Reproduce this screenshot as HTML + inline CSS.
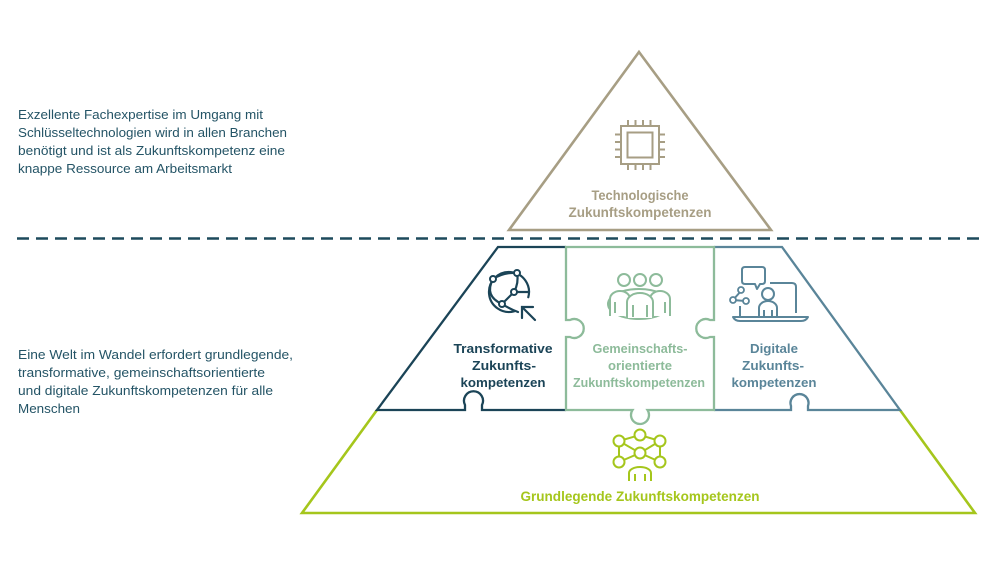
<!DOCTYPE html>
<html>
<head>
<meta charset="utf-8">
<style>
html,body{margin:0;padding:0;background:#fff;}
svg{display:block;}
text{font-family:"Liberation Sans",Arial,sans-serif;}
</style>
</head>
<body>
<svg width="1000" height="563" viewBox="0 0 1000 563" xmlns="http://www.w3.org/2000/svg">
<rect width="1000" height="563" fill="#fff"/>

<!-- Left descriptive text -->
<g font-size="13" fill="#245466">
<text x="18" y="119" textLength="245" lengthAdjust="spacingAndGlyphs">Exzellente Fachexpertise im Umgang mit</text>
<text x="18" y="137" textLength="269" lengthAdjust="spacingAndGlyphs">Schlüsseltechnologien wird in allen Branchen</text>
<text x="18" y="155" textLength="267" lengthAdjust="spacingAndGlyphs">benötigt und ist als Zukunftskompetenz eine</text>
<text x="18" y="173" textLength="214" lengthAdjust="spacingAndGlyphs">knappe Ressource am Arbeitsmarkt</text>

<text x="18" y="359" textLength="275" lengthAdjust="spacingAndGlyphs">Eine Welt im Wandel erfordert grundlegende,</text>
<text x="18" y="377" textLength="247" lengthAdjust="spacingAndGlyphs">transformative, gemeinschaftsorientierte</text>
<text x="18" y="395" textLength="255" lengthAdjust="spacingAndGlyphs">und digitale Zukunftskompetenzen für alle</text>
<text x="18" y="413" textLength="62" lengthAdjust="spacingAndGlyphs">Menschen</text>
</g>

<!-- Dashed separator -->
<line x1="17" y1="238.5" x2="980" y2="238.5" stroke="#1d4a5c" stroke-width="2.6" stroke-dasharray="12 7"/>

<!-- Top triangle -->
<path d="M639 52 L771 230 L509 230 Z" fill="none" stroke="#a79e84" stroke-width="2.6" stroke-linejoin="miter"/>
<!-- Chip icon -->
<g fill="none" stroke="#a79e84" stroke-width="2">
<rect x="621" y="126" width="38" height="38"/>
<rect x="627.5" y="132.5" width="25" height="25"/>
<path d="M628 120V126 M635.5 120V126 M643 120V126 M650.5 120V126
         M628 164V170 M635.5 164V170 M643 164V170 M650.5 164V170
         M615 134.5H621 M615 142H621 M615 149.5H621 M615 157H621
         M659 134.5H665 M659 142H665 M659 149.5H665 M659 157H665"/>
</g>
<g font-size="13.5" font-weight="bold" fill="#a79e84" text-anchor="middle">
<text x="640" y="200" textLength="97" lengthAdjust="spacingAndGlyphs">Technologische</text>
<text x="640" y="217" textLength="143" lengthAdjust="spacingAndGlyphs">Zukunftskompetenzen</text>
</g>

<!-- Bottom trapezoid (sides + bottom) -->
<path d="M377 410 L302 513 L975 513 L900 410" fill="none" stroke="#a5c61c" stroke-width="2.6" stroke-linejoin="miter"/>

<!-- Left piece (navy) -->
<path d="M566 247 L498 247 L377 410 L465 410 L465 405 A9.5 9.5 0 1 1 482 405 L482 410 L566 410" fill="none" stroke="#1b4457" stroke-width="2.3" stroke-linejoin="miter"/>
<!-- Right piece (blue) -->
<path d="M714 247 L782 247 L900 410 L808 410 L808 406 A9 9 0 1 0 791 406 L791 410 L714 410" fill="none" stroke="#5a8599" stroke-width="2.3" stroke-linejoin="miter"/>
<!-- Middle piece (green) -->
<path d="M566 247 L714 247 L714 320 L710 320 A9.5 9.5 0 1 0 710 337 L714 337 L714 410 L647.5 410 A9 9 0 1 1 632.5 410 L566 410 L566 337 L570 337 A9.5 9.5 0 1 0 570 320 L566 320 Z" fill="none" stroke="#8dbb9a" stroke-width="2.3" stroke-linejoin="miter"/>

<!-- Globe icon (navy) -->
<g fill="none" stroke="#1b4457" stroke-width="2.2" stroke-linecap="round">
<path d="M514.2 311.3 A20 20 0 1 1 528.3 297.2"/>
<path d="M493 279 Q484 296 502 304"/>
<path d="M517 273 Q519 283 514 292"/>
<path d="M514 292 L529 292"/>
<path d="M514 292 L502 304"/>
<path d="M502 304 Q510 309 518 312"/>
<path d="M493 279 Q504 272 517 273"/>
<path d="M535 320 L522 307"/>
<path d="M522 318 L522 307 L533 307"/>
</g>
<g fill="#fff" stroke="#1b4457" stroke-width="2">
<circle cx="493" cy="279" r="3"/>
<circle cx="517" cy="273" r="3"/>
<circle cx="514" cy="292" r="3"/>
<circle cx="502" cy="304" r="3"/>
</g>
<g font-size="13" font-weight="bold" fill="#1b4457" text-anchor="middle">
<text x="503" y="353" textLength="99" lengthAdjust="spacingAndGlyphs">Transformative</text>
<text x="504" y="370" textLength="64" lengthAdjust="spacingAndGlyphs">Zukunfts-</text>
<text x="503" y="387" textLength="85" lengthAdjust="spacingAndGlyphs">kompetenzen</text>
</g>

<!-- Community icon (green) -->
<g fill="none" stroke="#8dbb9a" stroke-width="2">
<ellipse cx="639" cy="304" rx="31" ry="15"/>
<path d="M610 316 V299 A10 8 0 0 1 630 299 V316" fill="#fff"/>
<path d="M650 316 V299 A10 8 0 0 1 670 299 V316" fill="#fff"/>
<path d="M627 318 V302 A13 9 0 0 1 653 302 V318" fill="#fff"/>
<circle cx="624" cy="280" r="6" fill="#fff"/>
<circle cx="656" cy="280" r="6" fill="#fff"/>
<circle cx="640" cy="280" r="6" fill="#fff"/>
<path d="M615 302 V313 M633 305 V317 M647 305 V317 M665 302 V313"/>
</g>
<g font-size="13" font-weight="bold" fill="#8dbb9a" text-anchor="middle">
<text x="640" y="353" textLength="95" lengthAdjust="spacingAndGlyphs">Gemeinschafts-</text>
<text x="640" y="370" textLength="64" lengthAdjust="spacingAndGlyphs">orientierte</text>
<text x="639" y="387" textLength="132" lengthAdjust="spacingAndGlyphs">Zukunftskompetenzen</text>
</g>

<!-- Digital icon (blue) -->
<g fill="none" stroke="#5a8599" stroke-width="2" stroke-linejoin="round">
<path d="M745 267 H762 Q765 267 765 270 V281 Q765 284 762 284 H760 L757 289 L755 284 H745 Q742 284 742 281 V270 Q742 267 745 267 Z"/>
<path d="M770 283 H792 Q796 283 796 287 V313"/>
<circle cx="768" cy="294" r="6"/>
<path d="M759 316 V308 A9 7 0 0 1 777 308 V316"/>
<path d="M764 310 V316 M772 310 V316"/>
<path d="M741 291 L733 300 M733 300 L745 301"/>
<path d="M740 306 V316"/>
<path d="M733 317 H808 Q806 321 801 321 H740 Q735 321 733 317 Z"/>
</g>
<g fill="#fff" stroke="#5a8599" stroke-width="1.8">
<circle cx="741" cy="290" r="3"/>
<circle cx="733" cy="300" r="3"/>
<circle cx="746" cy="301" r="3"/>
</g>
<g font-size="13" font-weight="bold" fill="#5a8599" text-anchor="middle">
<text x="774" y="353" textLength="48" lengthAdjust="spacingAndGlyphs">Digitale</text>
<text x="773" y="370" textLength="62" lengthAdjust="spacingAndGlyphs">Zukunfts-</text>
<text x="774" y="387" textLength="85" lengthAdjust="spacingAndGlyphs">kompetenzen</text>
</g>

<!-- Bottom network icon (lime) -->
<g fill="none" stroke="#a5c61c" stroke-width="2">
<path d="M619 441 L640 435 L660 441 M619 441 L619 462 M660 441 L660 462 M619 441 L640 453 L660 441 M619 462 L640 453 L660 462"/>
</g>
<g fill="#fff" stroke="#a5c61c" stroke-width="2">
<circle cx="619" cy="441" r="5.5"/>
<circle cx="640" cy="435" r="5.5"/>
<circle cx="660" cy="441" r="5.5"/>
<circle cx="619" cy="462" r="5.5"/>
<circle cx="640" cy="453" r="5.5"/>
<circle cx="660" cy="462" r="5.5"/>
</g>
<g fill="none" stroke="#a5c61c" stroke-width="2">
<path d="M629 481 V473 A11 6 0 0 1 651 473 V481"/>
<path d="M635 474 V481 M645 474 V481"/>
</g>
<text x="640" y="501" font-size="13.5" font-weight="bold" fill="#a5c61c" text-anchor="middle" textLength="239" lengthAdjust="spacingAndGlyphs">Grundlegende Zukunftskompetenzen</text>
</svg>
</body>
</html>
